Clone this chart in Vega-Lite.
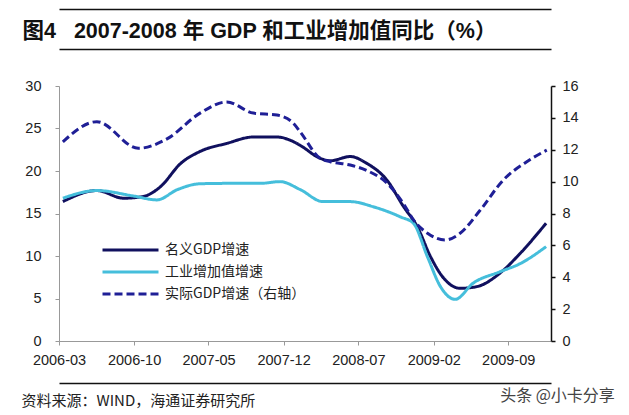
{
  "$schema": "https://vega.github.io/schema/vega-lite/v6.json",
  "width": 492,
  "height": 255,
  "autosize": {"type": "none"},
  "padding": {"left": 59, "top": 86, "right": 78, "bottom": 74},
  "background": "white",
  "config": {
    "view": {"stroke": null},
    "axis": {
      "labelFont": "Liberation Sans",
      "labelFontSize": 14.5,
      "labelColor": "#222222",
      "grid": false
    }
  },
  "datasets": {
    "series": [
      {"date": "2006-03-12", "series": "名义GDP增速", "value": 16.4},
      {"date": "2006-06-17", "series": "名义GDP增速", "value": 17.7},
      {"date": "2006-09-01", "series": "名义GDP增速", "value": 16.8},
      {"date": "2006-10-27", "series": "名义GDP增速", "value": 17.0},
      {"date": "2006-12-15", "series": "名义GDP增速", "value": 18.15},
      {"date": "2007-02-11", "series": "名义GDP增速", "value": 20.9},
      {"date": "2007-04-07", "series": "名义GDP增速", "value": 22.3},
      {"date": "2007-06-22", "series": "名义GDP增速", "value": 23.25},
      {"date": "2007-09-06", "series": "名义GDP增速", "value": 24.0},
      {"date": "2007-11-12", "series": "名义GDP增速", "value": 24.0},
      {"date": "2007-12-29", "series": "名义GDP增速", "value": 23.45},
      {"date": "2008-01-18", "series": "名义GDP增速", "value": 23.0},
      {"date": "2008-03-14", "series": "名义GDP增速", "value": 21.5},
      {"date": "2008-04-12", "series": "名义GDP增速", "value": 21.2},
      {"date": "2008-06-08", "series": "名义GDP增速", "value": 21.7},
      {"date": "2008-07-25", "series": "名义GDP增速", "value": 20.9},
      {"date": "2008-09-21", "series": "名义GDP增速", "value": 18.9},
      {"date": "2008-11-07", "series": "名义GDP增速", "value": 15.8},
      {"date": "2008-12-16", "series": "名义GDP增速", "value": 13.45},
      {"date": "2009-01-23", "series": "名义GDP增速", "value": 9.9},
      {"date": "2009-03-01", "series": "名义GDP增速", "value": 7.4},
      {"date": "2009-04-17", "series": "名义GDP增速", "value": 6.2},
      {"date": "2009-06-04", "series": "名义GDP增速", "value": 6.4},
      {"date": "2009-08-09", "series": "名义GDP增速", "value": 8.0},
      {"date": "2009-10-05", "series": "名义GDP增速", "value": 10.3},
      {"date": "2009-12-18", "series": "名义GDP增速", "value": 13.85},

      {"date": "2006-03-12", "series": "工业增加值增速", "value": 16.8},
      {"date": "2006-06-17", "series": "工业增加值增速", "value": 17.7},
      {"date": "2006-09-29", "series": "工业增加值增速", "value": 17.06},
      {"date": "2006-12-05", "series": "工业增加值增速", "value": 16.6},
      {"date": "2007-02-01", "series": "工业增加值增速", "value": 17.8},
      {"date": "2007-04-07", "series": "工业增加值增速", "value": 18.5},
      {"date": "2007-07-10", "series": "工业增加值增速", "value": 18.55},
      {"date": "2007-09-26", "series": "工业增加值增速", "value": 18.55},
      {"date": "2007-11-21", "series": "工业增加值增速", "value": 18.75},
      {"date": "2008-01-18", "series": "工业增加值增速", "value": 17.8},
      {"date": "2008-03-22", "series": "工业增加值增速", "value": 16.4},
      {"date": "2008-06-08", "series": "工业增加值增速", "value": 16.4},
      {"date": "2008-08-12", "series": "工业增加值增速", "value": 15.8},
      {"date": "2008-10-29", "series": "工业增加值增速", "value": 14.6},
      {"date": "2008-12-05", "series": "工业增加值增速", "value": 13.85},
      {"date": "2009-01-14", "series": "工业增加值增速", "value": 9.9},
      {"date": "2009-02-20", "series": "工业增加值增速", "value": 6.4},
      {"date": "2009-04-03", "series": "工业增加值增速", "value": 4.9},
      {"date": "2009-05-24", "series": "工业增加值增速", "value": 6.8},
      {"date": "2009-08-09", "series": "工业增加值增速", "value": 8.15},
      {"date": "2009-10-05", "series": "工业增加值增速", "value": 9.1},
      {"date": "2009-12-18", "series": "工业增加值增速", "value": 11.1},

      {"date": "2006-03-12", "series": "实际GDP增速（右轴）", "value": 12.5},
      {"date": "2006-06-17", "series": "实际GDP增速（右轴）", "value": 13.76},
      {"date": "2006-10-13", "series": "实际GDP增速（右轴）", "value": 12.09},
      {"date": "2007-01-04", "series": "实际GDP增速（右轴）", "value": 12.7},
      {"date": "2007-04-07", "series": "实际GDP增速（右轴）", "value": 14.3},
      {"date": "2007-06-22", "series": "实际GDP增速（右轴）", "value": 15.0},
      {"date": "2007-09-06", "series": "实际GDP增速（右轴）", "value": 14.3},
      {"date": "2007-11-12", "series": "实际GDP增速（右轴）", "value": 14.18},
      {"date": "2007-12-29", "series": "实际GDP增速（右轴）", "value": 13.66},
      {"date": "2008-01-18", "series": "实际GDP增速（右轴）", "value": 13.1},
      {"date": "2008-03-14", "series": "实际GDP增速（右轴）", "value": 11.46},
      {"date": "2008-04-12", "series": "实际GDP增速（右轴）", "value": 11.25},
      {"date": "2008-06-08", "series": "实际GDP增速（右轴）", "value": 11.04},
      {"date": "2008-07-25", "series": "实际GDP增速（右轴）", "value": 10.7},
      {"date": "2008-09-21", "series": "实际GDP增速（右轴）", "value": 9.9},
      {"date": "2008-11-07", "series": "实际GDP增速（右轴）", "value": 8.6},
      {"date": "2008-12-05", "series": "实际GDP增速（右轴）", "value": 7.6},
      {"date": "2009-01-14", "series": "实际GDP增速（右轴）", "value": 6.76},
      {"date": "2009-03-05", "series": "实际GDP增速（右轴）", "value": 6.34},
      {"date": "2009-04-17", "series": "实际GDP增速（右轴）", "value": 6.76},
      {"date": "2009-06-13", "series": "实际GDP增速（右轴）", "value": 8.2},
      {"date": "2009-08-18", "series": "实际GDP增速（右轴）", "value": 10.1},
      {"date": "2009-10-24", "series": "实际GDP增速（右轴）", "value": 11.25},
      {"date": "2009-12-20", "series": "实际GDP增速（右轴）", "value": 11.98}
    ]
  },
  "data": {"name": "series"},
  "encoding": {
    "color": {
      "field": "series",
      "type": "nominal",
      "scale": {
        "domain": ["名义GDP增速", "工业增加值增速", "实际GDP增速（右轴）"],
        "range": ["#10105E", "#45BEDB", "#1F1F96"]
      },
      "legend": {
        "title": null,
        "orient": "none",
        "legendX": 42,
        "legendY": 156,
        "symbolType": "stroke",
        "symbolSize": 3136,
        "symbolStrokeWidth": 3,
        "clipHeight": 16,
        "labelFont": "Noto Sans CJK SC",
        "labelFontSize": 14,
        "labelColor": "#222222",
        "labelOffset": 5,
        "rowPadding": 6
      }
    },
    "strokeDash": {
      "field": "series",
      "type": "nominal",
      "scale": {
        "domain": ["名义GDP增速", "工业增加值增速", "实际GDP增速（右轴）"],
        "range": [[1, 0], [1, 0], [8, 4]]
      },
      "legend": {
        "title": null,
        "orient": "none",
        "legendX": 42,
        "legendY": 156,
        "symbolType": "stroke",
        "symbolSize": 3136,
        "symbolStrokeWidth": 3,
        "clipHeight": 16,
        "labelFont": "Noto Sans CJK SC",
        "labelFontSize": 14,
        "labelColor": "#222222",
        "labelOffset": 5,
        "rowPadding": 6
      }
    }
  },
  "layer": [
    {
      "transform": [{"filter": "datum.series !== '实际GDP增速（右轴）'"}],
      "mark": {"type": "line", "strokeWidth": 3, "interpolate": "monotone"},
      "encoding": {
        "x": {
          "field": "date",
          "type": "temporal",
          "scale": {
            "type": "utc",
            "domain": [
              {"year": 2006, "month": 3, "date": 1, "utc": true},
              {"year": 2010, "month": 1, "date": 1, "utc": true}
            ]
          },
          "axis": {
            "values": [
              {"year": 2006, "month": 3, "date": 1, "utc": true},
              {"year": 2006, "month": 10, "date": 1, "utc": true},
              {"year": 2007, "month": 5, "date": 1, "utc": true},
              {"year": 2007, "month": 12, "date": 1, "utc": true},
              {"year": 2008, "month": 7, "date": 1, "utc": true},
              {"year": 2009, "month": 2, "date": 1, "utc": true},
              {"year": 2009, "month": 9, "date": 1, "utc": true}
            ],
            "format": "%Y-%m",
            "labelFlush": false,
            "labelOverlap": false,
            "domainColor": "#999999",
            "tickColor": "#999999",
            "tickSize": 4,
            "labelPadding": 8,
            "title": "资料来源：WIND，海通证券研究所",
            "titleFont": "Noto Sans CJK SC",
            "titleFontSize": 15,
            "titleFontWeight": "normal",
            "titleColor": "#222222",
            "titleAnchor": "start",
            "titleAlign": "left",
            "titleBaseline": "middle",
            "titleX": -38,
            "titleY": 59
          }
        },
        "y": {
          "field": "value",
          "type": "quantitative",
          "scale": {"domain": [0, 30], "nice": false, "zero": false},
          "axis": {
            "values": [0, 5, 10, 15, 20, 25, 30],
            "domainColor": "#999999",
            "tickColor": "#999999",
            "tickSize": 4,
            "labelPadding": 14,
            "title": "图4\u00a0\u00a0\u00a02007-2008 年 GDP 和工业增加值同比（%）",
            "titleFont": "Liberation Sans, Noto Sans CJK SC",
            "titleFontSize": 21.5,
            "titleFontWeight": "bold",
            "titleColor": "#111111",
            "titleAngle": 0,
            "titleAnchor": "start",
            "titleAlign": "left",
            "titleBaseline": "alphabetic",
            "titleX": -37,
            "titleY": -49
          }
        }
      }
    },
    {
      "transform": [{"filter": "datum.series === '实际GDP增速（右轴）'"}],
      "mark": {"type": "line", "strokeWidth": 3, "interpolate": "monotone"},
      "encoding": {
        "x": {
          "field": "date",
          "type": "temporal",
          "scale": {
            "type": "utc",
            "domain": [
              {"year": 2006, "month": 3, "date": 1, "utc": true},
              {"year": 2010, "month": 1, "date": 1, "utc": true}
            ]
          },
          "axis": {
            "orient": "top",
            "offset": 37,
            "labels": false,
            "ticks": false,
            "domainColor": "#111111",
            "domainWidth": 1.5,
            "title": null
          }
        },
        "y": {
          "field": "value",
          "type": "quantitative",
          "scale": {"domain": [0, 16], "nice": false, "zero": false},
          "axis": {
            "orient": "right",
            "values": [0, 2, 4, 6, 8, 10, 12, 14, 16],
            "domainColor": "#111111",
            "domainWidth": 1.5,
            "tickColor": "#111111",
            "tickWidth": 1.5,
            "tickSize": 4,
            "labelPadding": 7,
            "title": "头条 @小卡分享",
            "titleAngle": 0,
            "titleFont": "Noto Sans CJK SC",
            "titleFontSize": 16,
            "titleFontWeight": "normal",
            "titleColor": "#444444",
            "titleAlign": "center",
            "titleBaseline": "middle",
            "titleX": 6,
            "titleY": 309
          }
        }
      }
    },
    {
      "transform": [{"filter": "datum.series === '实际GDP增速（右轴）'"}],
      "mark": {"type": "line", "opacity": 0},
      "encoding": {
        "x": {
          "field": "date",
          "type": "temporal",
          "scale": {
            "type": "utc",
            "domain": [
              {"year": 2006, "month": 3, "date": 1, "utc": true},
              {"year": 2010, "month": 1, "date": 1, "utc": true}
            ]
          },
          "axis": {
            "orient": "top",
            "offset": 77,
            "labels": false,
            "ticks": false,
            "domainColor": "#111111",
            "domainWidth": 1.5,
            "title": null
          }
        },
        "y": {"field": "value", "type": "quantitative", "axis": null}
      }
    },
    {
      "transform": [{"filter": "datum.series === '实际GDP增速（右轴）'"}],
      "mark": {"type": "line", "opacity": 0},
      "encoding": {
        "x": {
          "field": "date",
          "type": "temporal",
          "scale": {
            "type": "utc",
            "domain": [
              {"year": 2006, "month": 3, "date": 1, "utc": true},
              {"year": 2010, "month": 1, "date": 1, "utc": true}
            ]
          },
          "axis": {
            "orient": "bottom",
            "offset": 42,
            "labels": false,
            "ticks": false,
            "domainColor": "#111111",
            "domainWidth": 1.5,
            "title": null
          }
        },
        "y": {"field": "value", "type": "quantitative", "axis": null}
      }
    }
  ],
  "resolve": {"scale": {"y": "independent"}, "axis": {"x": "independent"}}
}
